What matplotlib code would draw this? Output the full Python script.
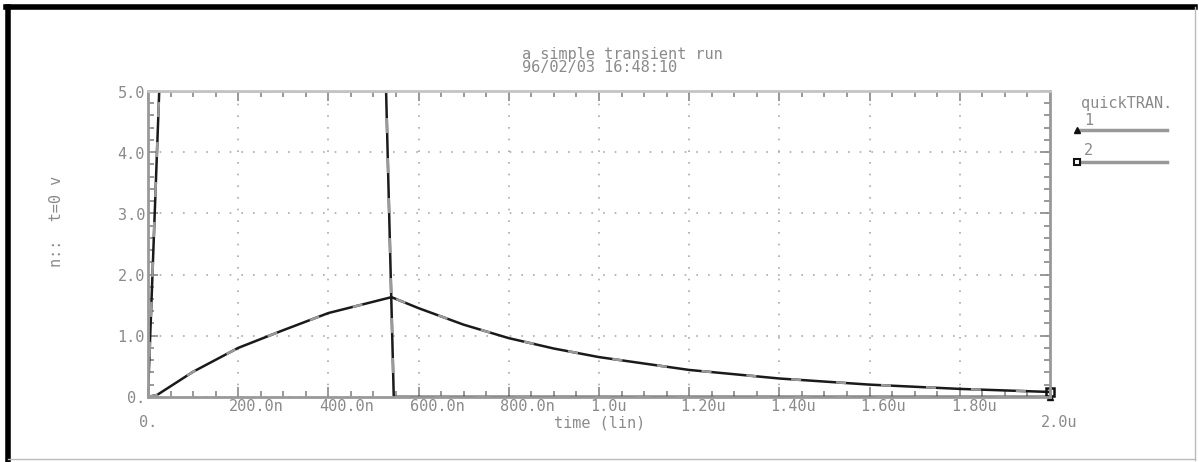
import matplotlib.pyplot as plt
from matplotlib.lines import Line2D
from matplotlib.ticker import MultipleLocator

# data (time in seconds, volts)
t_pulse = [0, 25e-9, 528e-9, 545e-9, 2.0e-6]
v_pulse = [0, 5.0, 5.0, 0, 0]

t_rc = [0, 20e-9, 100e-9, 200e-9, 300e-9, 400e-9, 540e-9, 600e-9, 700e-9,
        800e-9, 900e-9, 1.0e-6, 1.2e-6, 1.4e-6, 1.6e-6, 1.8e-6, 2.0e-6]
v_rc = [0, 0.03, 0.41, 0.80, 1.09, 1.37, 1.63, 1.45, 1.18,
        0.96, 0.79, 0.65, 0.44, 0.30, 0.20, 0.13, 0.08]

x_ticks = [0, 200e-9, 400e-9, 600e-9, 800e-9, 1.0e-6, 1.2e-6, 1.4e-6, 1.6e-6, 1.8e-6, 2.0e-6]
x_labels = ["0.", "200.0n", "400.0n", "600.0n", "800.0n", "1.0u", "1.20u", "1.40u", "1.60u", "1.80u", "2.0u"]
y_ticks = [0, 1, 2, 3, 4, 5]
y_labels = ["0.", "1.0", "2.0", "3.0", "4.0", "5.0"]

grey = "#8a8a8a"
mono = "DejaVu Sans Mono"
fs = 11

fig = plt.figure(figsize=(11.99, 4.62), dpi=100)
ax = fig.add_axes([0.1234, 0.141, 0.7523, 0.662])

ax.plot(t_pulse, v_pulse, color="#1a1a1a", lw=1.8, solid_joinstyle="miter")
ax.plot(t_rc, v_rc, color="#1a1a1a", lw=1.8)
# grey overlay like the original trace colouring
ax.plot(t_pulse, v_pulse, color="#9a9a9a", lw=1.8, dashes=(6, 10))
ax.plot(t_rc, v_rc, color="#9a9a9a", lw=1.8, dashes=(4, 14))
ax.plot(t_rc[-1], v_rc[-1], marker="s", ms=6, mfc="none", mec="#111", mew=1.8, clip_on=False)
ax.plot(t_pulse[-1], v_pulse[-1], marker="^", ms=5, color="#111", clip_on=False)

ax.set_xlim(0, 2.0e-6)
ax.set_ylim(0, 5.0)
ax.set_xticks(x_ticks)
ax.set_yticks(y_ticks)
ax.xaxis.set_minor_locator(MultipleLocator(50e-9))
ax.yaxis.set_minor_locator(MultipleLocator(0.2))
ax.set_xticklabels([])
ax.set_yticklabels([])

ax.grid(True, which="major", color="#aaaaaa", ls=(0, (1, 6)), lw=1.2)
for s in ax.spines.values():
    s.set_color("#999999")
    s.set_linewidth(2)
ax.spines["top"].set_color("#c4c4c4")
ax.tick_params(which="both", direction="in", color="#888888", top=True, right=True, width=1.2)
ax.tick_params(which="major", length=7)
ax.tick_params(which="minor", length=4)

# tick labels placed like the plotter output
for x, lab in zip(x_ticks, x_labels):
    dy = -10
    if lab in ("0.", "2.0u"):
        dy = -26
    ax.annotate(lab, (x, 0), xytext=(-9, dy), textcoords="offset pixels",
                ha="left", va="center", fontsize=fs, color=grey, family=mono)
for y, lab in zip(y_ticks, y_labels):
    ax.annotate(lab, (0, y), xytext=(-3, -2), textcoords="offset pixels",
                ha="right", va="center", fontsize=fs, color=grey, family=mono)

fig.text(0.5005, 0.085, "time (lin)", ha="center", va="center",
         fontsize=fs, color=grey, family=mono)
fig.text(0.047, 0.52, "n::  t=0 v", rotation=90, ha="center", va="center",
         fontsize=fs, color=grey, family=mono)

fig.text(0.435, 0.881, "a simple transient run", ha="left", va="center",
         fontsize=fs, color=grey, family=mono)
fig.text(0.435, 0.853, "96/02/03 16:48:10", ha="left", va="center",
         fontsize=fs, color=grey, family=mono)

# legend at right
fig.text(0.902, 0.777, "quickTRAN.", fontsize=fs, color=grey, family=mono, va="center")
fig.text(0.904, 0.740, "1", fontsize=fs, color=grey, family=mono, va="center")
fig.text(0.904, 0.675, "2", fontsize=fs, color=grey, family=mono, va="center")
fig.add_artist(Line2D([0.901, 0.973], [0.719, 0.719], color="#999999", lw=2.5))
fig.add_artist(Line2D([0.901, 0.973], [0.649, 0.649], color="#999999", lw=2.5))
fig.add_artist(Line2D([0.898], [0.719], marker="^", ms=5, color="#111", mew=1))
fig.add_artist(Line2D([0.898], [0.649], marker="s", ms=5, mfc="white", mec="#111", mew=1.5))

# page border
fig.add_artist(Line2D([0.007, 0.007], [0.005, 0.985], color="black", lw=4))
fig.add_artist(Line2D([0.005, 0.997], [0.985, 0.985], color="black", lw=4))
fig.add_artist(Line2D([0.997, 0.997], [0.005, 0.985], color="#bbbbbb", lw=1))
fig.add_artist(Line2D([0.007, 0.997], [0.006, 0.006], color="#bbbbbb", lw=1))

fig.savefig("out.png", dpi=100)
